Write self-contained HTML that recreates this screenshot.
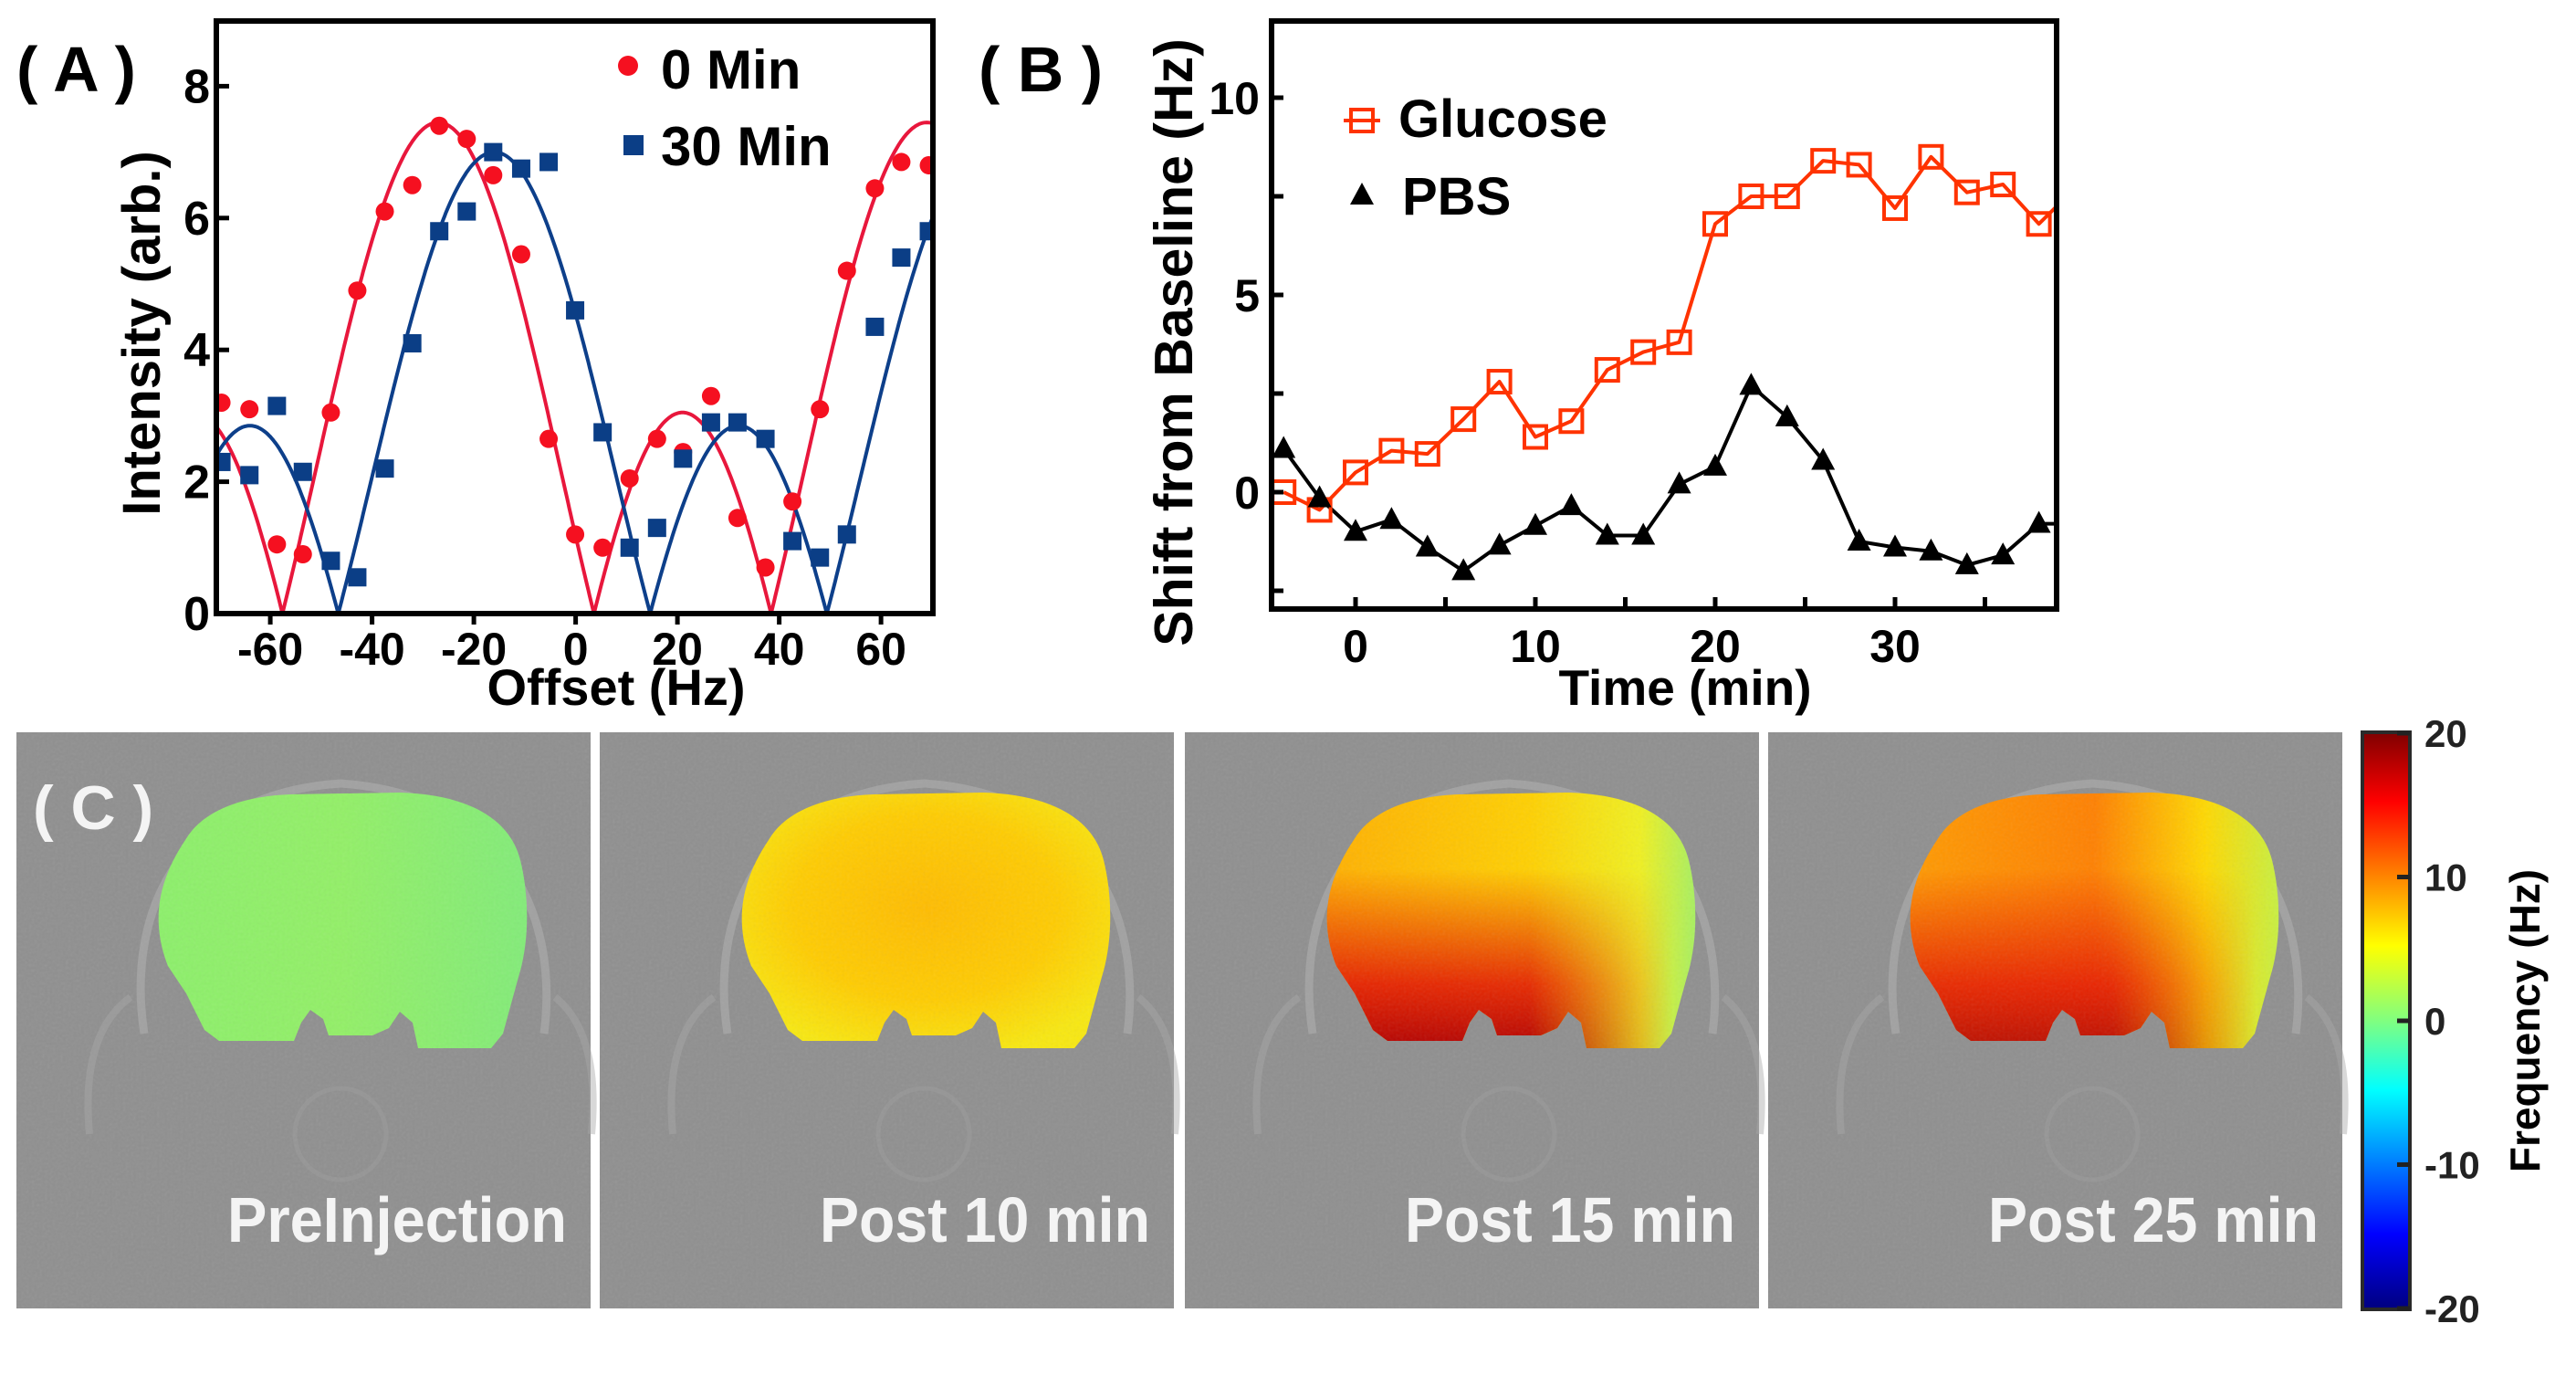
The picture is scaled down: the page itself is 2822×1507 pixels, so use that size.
<!DOCTYPE html>
<html><head><meta charset="utf-8"><style>
html,body{margin:0;padding:0;background:#fff;}
svg{display:block;font-family:"Liberation Sans",sans-serif;}
</style></head><body>
<svg id="fig" width="2822" height="1507" viewBox="0 0 2822 1507" xmlns="http://www.w3.org/2000/svg">
<defs>
  <clipPath id="clipA"><rect x="237" y="23" width="785" height="649"/></clipPath>
  <clipPath id="clipB"><rect x="1393" y="23" width="860" height="644"/></clipPath>
  <linearGradient id="jet" x1="0" y1="0" x2="0" y2="1">
    <stop offset="0" stop-color="#7f0000"/><stop offset="0.12" stop-color="#ff0000"/>
    <stop offset="0.37" stop-color="#ffff00"/><stop offset="0.5" stop-color="#80ff80"/>
    <stop offset="0.62" stop-color="#00ffff"/><stop offset="0.87" stop-color="#0000ff"/>
    <stop offset="1" stop-color="#00007f"/>
  </linearGradient>
  <linearGradient id="g1" x1="0" y1="0" x2="1" y2="0"><stop offset="0" stop-color="#8cf06a"/><stop offset="0.5" stop-color="#92f066"/><stop offset="1" stop-color="#82ec78"/></linearGradient>
  <radialGradient id="g2" cx="0.5" cy="0.45" r="0.6"><stop offset="0" stop-color="#ffbc00"/><stop offset="0.6" stop-color="#ffcc00"/><stop offset="1" stop-color="#f8e810"/></radialGradient>
  <linearGradient id="g3" x1="0" y1="0" x2="1" y2="0"><stop offset="0" stop-color="#ffb000"/><stop offset="0.55" stop-color="#ffd000"/><stop offset="0.85" stop-color="#f0f020"/><stop offset="1" stop-color="#a8f060"/></linearGradient>
  <linearGradient id="g4" x1="0" y1="0" x2="1" y2="0"><stop offset="0" stop-color="#ff9a00"/><stop offset="0.5" stop-color="#ff8000"/><stop offset="0.8" stop-color="#ffd800"/><stop offset="1" stop-color="#c8f040"/></linearGradient>
  <linearGradient id="red3" x1="0" y1="0" x2="0" y2="1"><stop offset="0.3" stop-color="#e00000" stop-opacity="0"/><stop offset="0.75" stop-color="#e00000" stop-opacity="0.8"/><stop offset="1" stop-color="#b00000" stop-opacity="1"/></linearGradient>
  <linearGradient id="redmask" x1="0" y1="0" x2="1" y2="0"><stop offset="0" stop-color="#fff"/><stop offset="0.6" stop-color="#fff"/><stop offset="0.85" stop-color="#000"/></linearGradient>
  <mask id="mred"><rect x="0" y="0" width="629" height="631" fill="url(#redmask)"/></mask>
  <filter id="noise"><feTurbulence type="fractalNoise" baseFrequency="0.35" numOctaves="1" seed="3"/><feColorMatrix type="saturate" values="0"/><feComponentTransfer><feFuncA type="table" tableValues="0 0.12"/></feComponentTransfer><feComposite in2="SourceGraphic" operator="in"/></filter>
</defs>

<!-- Panel A -->
<g>
  <text x="18" y="100" font-size="70" font-weight="bold">( A )</text>
  <g id="aMarks" clip-path="url(#clipA)"></g>
  <g id="aAxes"></g>
  <rect x="237" y="23" width="785" height="649" fill="none" stroke="#000" stroke-width="6"/>
  <text x="175" y="365" font-size="58" font-weight="bold" text-anchor="middle" transform="rotate(-90 175 365)">Intensity (arb.)</text>
  <text x="675" y="772" font-size="56" font-weight="bold" text-anchor="middle">Offset (Hz)</text>
  <g>
    <circle cx="688" cy="72" r="11" fill="#f51020"/>
    <text x="724" y="97" font-size="60" font-weight="bold">0 Min</text>
    <rect x="683" y="148" width="22" height="22" fill="#0b3e86"/>
    <text x="724" y="181" font-size="60" font-weight="bold">30 Min</text>
  </g>
</g>

<!-- Panel B -->
<g>
  <text x="1072" y="100" font-size="70" font-weight="bold">( B )</text>
  <g id="bMarks" clip-path="url(#clipB)"></g>
  <g id="bAxes"></g>
  <rect x="1393" y="23" width="860" height="644" fill="none" stroke="#000" stroke-width="6"/>
  <text x="1306" y="375" font-size="59" font-weight="bold" text-anchor="middle" transform="rotate(-90 1306 375)">Shift from Baseline (Hz)</text>
  <text x="1846" y="772" font-size="55" font-weight="bold" text-anchor="middle">Time (min)</text>
  <g>
    <line x1="1472" y1="132" x2="1512" y2="132" stroke="#ff3300" stroke-width="4"/>
    <rect x="1480" y="120" width="24" height="24" fill="none" stroke="#ff3300" stroke-width="4"/>
    <text x="1532" y="150" font-size="58" font-weight="bold">Glucose</text>
    <polygon points="1492,200 1505,224 1479,224" fill="#000"/>
    <text x="1536" y="235" font-size="58" font-weight="bold">PBS</text>
  </g>
</g>

<!-- Panel C -->
<g id="panelC"></g>
<g>
  <rect x="2588" y="802" width="52" height="632" fill="url(#jet)" stroke="#2a2a2a" stroke-width="4"/>
  <g id="cbTicks"></g>
  <text x="2770" y="1118" font-size="46" font-weight="bold" text-anchor="middle" transform="rotate(-90 2770 1118)" dominant-baseline="middle">Frequency (Hz)</text>
</g>
</svg>
<script>
// ---- Panel A data ----
const offsetsA = [-69.6,-64.1,-58.7,-53.6,-48.1,-42.9,-37.5,-32.1,-26.8,-21.4,-16.2,-10.7,-5.3,-0.1,5.3,10.6,16.0,21.1,26.6,31.8,37.3,42.6,48.0,53.3,58.8,64.0,69.4];
const intensity0 = [3.2,3.1,1.05,0.9,3.05,4.9,6.1,6.5,7.4,7.2,6.65,5.45,2.65,1.2,1.0,2.05,2.65,2.45,3.3,1.45,0.7,1.7,3.1,5.2,6.45,6.85,6.8];
const intensity30 = [2.3,2.1,3.15,2.15,0.8,0.55,2.2,4.1,5.8,6.1,7.0,6.75,6.85,4.6,2.75,1.0,1.3,2.35,2.9,2.9,2.65,1.1,0.85,1.2,4.35,5.4,5.8];
const fitAmp = [5.25, 4.925];
const fitBase = [2.2, 2.075];
const fitPeak = [-27, -16];
const fitPeriod = [96, 96];
const xTicksA = [-60,-40,-20,0,20,40,60];
const yTicksA = [0,2,4,6,8];
// ---- Panel B data ----
const timeB = [-4,-2,0,2,4,6,8,10,12,14,16,18,20,22,24,26,28,30,32,34,36,38,40];
const glucose = [0,-0.45,0.5,1.05,0.97,1.85,2.8,1.4,1.8,3.1,3.55,3.8,6.8,7.5,7.5,8.4,8.3,7.2,8.5,7.6,7.8,6.8,7.7];
const pbs = [1.1,-0.15,-1.0,-0.7,-1.4,-2.0,-1.35,-0.85,-0.35,-1.1,-1.1,0.2,0.65,2.7,1.9,0.8,-1.25,-1.4,-1.5,-1.85,-1.6,-0.8,-0.8];
const xTicksB = [0,10,20,30];
const xMinorB = [5,15,25,35];
const yTicksB = [10,5,0];
const yMinorB = [7.5,2.5,-2.5];
// ---- Panel C data ----
const panelLabels = ['PreInjection','Post 10 min','Post 15 min','Post 25 min'];
const cbTicks = [20,10,0,-10,-20];

const NS='http://www.w3.org/2000/svg';
function mk(tag, attrs, parent){const e=document.createElementNS(NS,tag);for(const k in attrs)e.setAttribute(k,attrs[k]);parent.appendChild(e);return e;}

const xA=v=>237+(v+70.6)/140.8*785;
const yA=v=>672-v*72.2;
const xB=v=>1485+v*19.7;
const yB=v=>539-v*43.2;

// Panel A
const aM=document.getElementById('aMarks'), aX=document.getElementById('aAxes');
const fitColors=['#e8173c','#0d3f8a'];
for(let s=0;s<2;s++){
  let d='';
  for(let x=-71;x<=71;x+=0.25){
    const w=2*Math.PI/fitPeriod[s];
    const v=Math.abs(fitAmp[s]*Math.cos(w*(x-fitPeak[s]))+fitBase[s]);
    d+=(d?'L':'M')+xA(x).toFixed(1)+' '+yA(v).toFixed(1);
  }
  const p=mk('path',{d:d,fill:'none',stroke:fitColors[s],'stroke-width':4},aM);
  
  
}
offsetsA.forEach((x,i)=>{
  const c=mk('circle',{cx:xA(x),cy:yA(intensity0[i]),r:10,fill:'#f51020'},aM);
  
  
  const r=mk('rect',{x:xA(x)-10,y:yA(intensity30[i])-10,width:20,height:20,fill:'#0b3e86'},aM);
  
  
});
xTicksA.forEach(v=>{
  const l=mk('line',{x1:xA(v),x2:xA(v),y1:672,y2:684,stroke:'#000','stroke-width':5},aX);
  
  
  const t=mk('text',{x:xA(v),y:728,'font-size':50,'font-weight':'bold','text-anchor':'middle'},aX);
  t.textContent=v;
  
  
});
yTicksA.forEach(v=>{
  const l=mk('line',{x1:237,x2:251,y1:yA(v),y2:yA(v),stroke:'#000','stroke-width':5},aX);
  
  
  const t=mk('text',{x:230,y:yA(v)+18,'font-size':52,'font-weight':'bold','text-anchor':'end'},aX);
  t.textContent=v;
  
  
});

// Panel B
const bM=document.getElementById('bMarks'), bX=document.getElementById('bAxes');
function series(vals,color,name){
  const d=timeB.map((t,i)=>(i?'L':'M')+xB(t).toFixed(1)+' '+yB(vals[i]).toFixed(1)).join('');
  const p=mk('path',{d:d,fill:'none',stroke:color,'stroke-width':4,'stroke-linejoin':'round'},bM);
  
  
}
series(glucose,'#ff3300','glucose');
series(pbs,'#000','pbs');
timeB.forEach((t,i)=>{
  const r=mk('rect',{x:xB(t)-12,y:yB(glucose[i])-12,width:24,height:24,fill:'none',stroke:'#ff3300','stroke-width':4},bM);
  
  
  const cx=xB(t), cy=yB(pbs[i]);
  const g=mk('polygon',{points:`${cx},${cy-14} ${cx+13},${cy+10} ${cx-13},${cy+10}`,fill:'#000'},bM);
  
  
});
xTicksB.concat(xMinorB).forEach(v=>{
  const l=mk('line',{x1:xB(v),x2:xB(v),y1:667,y2:654,stroke:'#000','stroke-width':5},bX);
  
  
});
xTicksB.forEach(v=>{
  const t=mk('text',{x:xB(v),y:725,'font-size':50,'font-weight':'bold','text-anchor':'middle'},bX);
  t.textContent=v;
  
  
});
yTicksB.concat(yMinorB).forEach(v=>{
  const l=mk('line',{x1:1393,x2:1406,y1:yB(v),y2:yB(v),stroke:'#000','stroke-width':5},bX);
  
  
});
yTicksB.forEach(v=>{
  const t=mk('text',{x:1380,y:yB(v)+18,'font-size':50,'font-weight':'bold','text-anchor':'end'},bX);
  t.textContent=v;
  
  
});

// Panel C
const pc=document.getElementById('panelC');
const panelX=[18,657,1298,1937];
const fills=['url(#g1)','url(#g2)','url(#g3)','url(#g4)'];
const brain='M185 118 C205 84 250 70 300 68 L420 66 C490 68 540 92 552 140 C562 180 562 230 550 268 L533 330 L520 346 L440 346 L434 318 L420 306 L408 324 L390 332 L342 332 L336 314 L322 304 L312 318 L304 338 L222 338 L206 326 L186 286 L166 256 C150 215 150 170 185 118 Z';
panelX.forEach((px,i)=>{
  const g=mk('g',{transform:`translate(${px},802)`},pc);
  
  
  mk('rect',{x:0,y:0,width:629,height:631,fill:'#8f8f8f'},g);
  mk('rect',{x:0,y:0,width:629,height:631,fill:'#fff',filter:'url(#noise)'},g);
  mk('path',{d:'M140 330 C120 200 175 68 355 56 C535 68 595 200 578 330',fill:'none',stroke:'#b0b0b0','stroke-width':9,opacity:0.55},g);
  mk('path',{d:'M80 440 Q70 330 125 290 M630 440 Q640 330 590 290',fill:'none',stroke:'#a8a8a8','stroke-width':8,opacity:0.45},g);
  mk('ellipse',{cx:355,cy:440,rx:50,ry:50,fill:'none',stroke:'#a0a0a0','stroke-width':5,opacity:0.4},g);
  const b=mk('path',{d:brain,fill:fills[i]},g);
  
  
  if(i>=2){ mk('path',{d:brain,fill:'url(#red3)',mask:'url(#mred)',opacity:i===2?1:0.9},g); }
  mk('path',{d:brain,fill:'#fff',filter:'url(#noise)'},g);
  const t=mk('text',{x:603,y:558,'font-size':70,'text-anchor':'end',fill:'#f4f4f4','font-weight':'bold',textLength:i===0?372:362,lengthAdjust:'spacingAndGlyphs'},g);
  t.textContent=panelLabels[i];
  
  
});
const cl=mk('text',{x:36,y:908,'font-size':68,'font-weight':'bold',fill:'#f4f4f4'},pc);
cl.textContent='( C )';


const cbt=document.getElementById('cbTicks');
const yCb=v=>1118-v*15.75;
cbTicks.forEach(v=>{
  const l=mk('line',{x1:2626,x2:2640,y1:yCb(v),y2:yCb(v),stroke:'#222','stroke-width':5},cbt);
  
  
  const t=mk('text',{x:2656,y:yCb(v)+15,'font-size':42,'font-weight':'bold',fill:'#222'},cbt);
  t.textContent=v;
  
  
});
</script>
</body></html>
